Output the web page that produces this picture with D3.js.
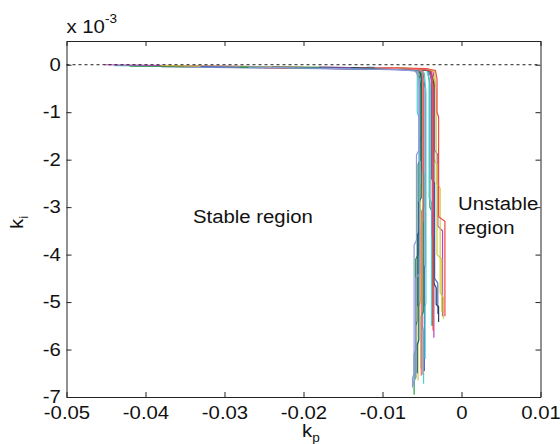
<!DOCTYPE html>
<html>
<head>
<meta charset="utf-8">
<script src="https://cdn.jsdelivr.net/npm/d3@7"></script>
<style>
  body { margin: 0; background: #fff; }
  text { font-family: Arial, "Liberation Sans", sans-serif; fill: #111; }
</style>
</head>
<body>
<div id="chart"></div>
<script>
///////////
// Data  //
///////////

// tick labels
var kpTicks = [-0.05, -0.04, -0.03, -0.02, -0.01, 0, 0.01];
var kiTicks = [-7, -6, -5, -4, -3, -2, -1, 0];   // units of 1e-3

// line colours (MATLAB-ish, as they look after antialiasing)
var colors = ["#4fcfcf", "#2a9a4a", "#1e5e5e", "#8f9bd8", "#cfcf3f", "#f04848", "#5068c8",
              "#2a9a4a", "#4fcfcf", "#c040c0", "#cfcf3f", "#5068c8", "#2a9a4a", "#4fcfcf",
              "#c040c0", "#26405a", "#f04848", "#cfcf3f", "#f04848", "#1e5e5e", "#f07a7a", "#8f9bd8"];

// stability boundary curves: [kp, ki (x 1e-3)]
var curves = [
  [[-0.0440,-0.02],[-0.0200,-0.05],[-0.0075,-0.07],[-0.0060,-0.10],[-0.0056,-0.2],[-0.0056,-1.0],[-0.0054,-1.1],[-0.0054,-3.0],[-0.0050,-3.1],[-0.0050,-5.5],[-0.0048,-5.6],[-0.0048,-6.72]],
  [[-0.0420,-0.03],[-0.0150,-0.06],[-0.0068,-0.09],[-0.0054,-0.14],[-0.0052,-0.4],[-0.0052,-2.0],[-0.0055,-2.1],[-0.0055,-4.0],[-0.0058,-4.1],[-0.0058,-6.0],[-0.0060,-6.1],[-0.0060,-6.95]],
  [[-0.0380,-0.04],[-0.0100,-0.09],[-0.0060,-0.11],[-0.0050,-0.15],[-0.0050,-1.5],[-0.0053,-1.6],[-0.0053,-3.5],[-0.0056,-3.6],[-0.0056,-5.4],[-0.0058,-5.5],[-0.0058,-6.6]],
  [[-0.0350,-0.05],[-0.0090,-0.10],[-0.0058,-0.12],[-0.0054,-0.3],[-0.0054,-1.8],[-0.0057,-1.9],[-0.0057,-3.7],[-0.0060,-3.8],[-0.0060,-6.5],[-0.0062,-6.6],[-0.0062,-6.8]],
  [[-0.0300,-0.04],[-0.0080,-0.09],[-0.0055,-0.12],[-0.0050,-0.3],[-0.0050,-2.5],[-0.0052,-2.6],[-0.0052,-5.0],[-0.0055,-5.1],[-0.0055,-6.65]],
  [[-0.0250,-0.06],[-0.0070,-0.10],[-0.0052,-0.13],[-0.0048,-0.4],[-0.0048,-3.0],[-0.0050,-3.1],[-0.0050,-6.53]],
  [[-0.0200,-0.07],[-0.0065,-0.11],[-0.0049,-0.14],[-0.0046,-0.5],[-0.0046,-4.2],[-0.0047,-4.3],[-0.0047,-6.45]],
  [[-0.0160,-0.06],[-0.0062,-0.10],[-0.0050,-0.2],[-0.0050,-2.2],[-0.0048,-2.3],[-0.0048,-5.2],[-0.0051,-5.3],[-0.0051,-6.4]],
  [[-0.0120,-0.05],[-0.0060,-0.09],[-0.0047,-0.18],[-0.0045,-0.6],[-0.0045,-5.0],[-0.0046,-5.1],[-0.0046,-6.2]],
  [[-0.0452,0.0],[-0.0300,-0.03],[-0.0120,-0.08],[-0.0045,-0.10],[-0.0036,-0.13],[-0.0034,-0.5],[-0.0034,-1.8],[-0.0030,-1.9],[-0.0030,-3.4],[-0.0024,-3.5],[-0.0024,-5.3]],
  [[-0.0380,-0.02],[-0.0100,-0.07],[-0.0040,-0.10],[-0.0035,-0.3],[-0.0035,-2.0],[-0.0031,-2.1],[-0.0031,-4.0],[-0.0025,-4.1],[-0.0025,-5.2]],
  [[-0.0330,-0.04],[-0.0080,-0.09],[-0.0042,-0.11],[-0.0038,-0.3],[-0.0038,-2.4],[-0.0034,-2.5],[-0.0034,-4.5],[-0.0030,-4.6],[-0.0030,-5.25]],
  [[-0.0280,-0.05],[-0.0075,-0.09],[-0.0043,-0.12],[-0.0040,-0.4],[-0.0040,-3.0],[-0.0037,-3.1],[-0.0037,-5.5]],
  [[-0.0220,-0.06],[-0.0070,-0.10],[-0.0044,-0.12],[-0.0041,-0.3],[-0.0041,-2.8],[-0.0038,-2.9],[-0.0038,-5.5]],
  [[-0.0180,-0.05],[-0.0065,-0.08],[-0.0040,-0.11],[-0.0037,-0.5],[-0.0037,-3.6],[-0.0035,-3.7],[-0.0035,-5.75]],
  [[-0.0140,-0.06],[-0.0060,-0.09],[-0.0039,-0.13],[-0.0035,-0.4],[-0.0035,-4.6],[-0.0032,-4.7],[-0.0032,-5.05],[-0.0029,-5.1],[-0.0029,-5.42]],
  [[-0.0130,-0.07],[-0.0050,-0.10],[-0.0038,-0.13],[-0.0036,-0.5],[-0.0036,-5.6]],
  [[-0.0090,-0.06],[-0.0042,-0.09],[-0.0034,-0.15],[-0.0032,-0.6],[-0.0032,-2.5],[-0.0027,-2.6],[-0.0027,-4.8],[-0.0023,-4.9],[-0.0023,-5.35]],
  [[-0.0100,-0.06],[-0.0045,-0.08],[-0.0033,-0.12],[-0.0031,-0.3],[-0.0031,-1.0],[-0.0029,-1.1],[-0.0029,-3.2],[-0.0021,-3.3],[-0.0021,-5.3]],
  [[-0.0240,-0.05],[-0.0070,-0.09],[-0.0053,-0.12],[-0.0051,-0.3],[-0.0051,-2.8],[-0.0054,-2.9],[-0.0054,-5.8],[-0.0056,-5.9],[-0.0056,-6.5]],
  [[-0.0110,-0.06],[-0.0055,-0.10],[-0.0049,-0.15],[-0.0049,-3.3],[-0.0051,-3.4],[-0.0051,-6.55]],
  [[-0.0270,-0.05],[-0.0080,-0.10],[-0.0055,-0.14],[-0.0053,-0.5],[-0.0053,-4.4],[-0.0058,-4.5],[-0.0058,-6.6],[-0.0061,-6.7],[-0.0061,-6.75]]
];

///////////////////
// Initial setup //
///////////////////

var width = 560;
var height = 444;
var margin = {left: 66.5, right: 19.5, top: 41, bottom: 47};
var stretch = "scale(1.13,1)";   // the original lettering is a little wide

var svg = d3.select("#chart").append("svg")
	.attr("width", width).attr("height", height);

var x = d3.scaleLinear().domain([-0.05, 0.01]).range([margin.left, width - margin.right]);
var y = d3.scaleLinear().domain([-7, 0.5]).range([height - margin.bottom, margin.top]);

var fmtKp = function(d) { return d === 0 ? "0" : String(+d.toFixed(2)); };

// Curves
var line = d3.line()
	.x(function(d) { return x(d[0]); })
	.y(function(d) { return y(d[1]); });

svg.append("g").selectAll("path").data(curves).enter().append("path")
	.attr("d", line)
	.attr("fill", "none")
	.attr("stroke", function(d, i) { return colors[i % colors.length]; })
	.attr("stroke-width", 1.2);

// Dashed zero line
svg.append("line")
	.attr("x1", x(-0.05)).attr("x2", x(0.01))
	.attr("y1", y(0)).attr("y2", y(0))
	.attr("stroke", "#222").attr("stroke-width", 1)
	.attr("stroke-dasharray", "3,3");

// Axes (box with inward ticks)
function styleAxis(g) {
	g.selectAll(".domain").attr("stroke", "#222");
	g.selectAll(".tick line").attr("stroke", "#222");
	g.selectAll("text").attr("font-size", "18px").attr("fill", "#111")
		.attr("font-family", "Arial, 'Liberation Sans', sans-serif")
		.attr("transform", stretch);
}

svg.append("g")
	.attr("transform", "translate(0," + y(-7) + ")")
	.call(d3.axisBottom(x).tickValues(kpTicks).tickFormat(fmtKp).tickSizeInner(-5).tickSizeOuter(0).tickPadding(9))
	.call(styleAxis);

svg.append("g")
	.attr("transform", "translate(0," + y(0.5) + ")")
	.call(d3.axisTop(x).tickValues(kpTicks).tickFormat("").tickSizeInner(-5).tickSizeOuter(0))
	.call(styleAxis);

svg.append("g")
	.attr("transform", "translate(" + x(-0.05) + ",0)")
	.call(d3.axisLeft(y).tickValues(kiTicks).tickFormat(function(d) { return String(d); }).tickSizeInner(-5).tickSizeOuter(0).tickPadding(5))
	.call(styleAxis);

svg.append("g")
	.attr("transform", "translate(" + x(0.01) + ",0)")
	.call(d3.axisRight(y).tickValues(kiTicks).tickFormat("").tickSizeInner(-5).tickSizeOuter(0))
	.call(styleAxis);

// Stretched free text helper
function label(px, py, rot) {
	return svg.append("g")
		.attr("transform", "translate(" + px + "," + py + ")" + (rot ? " rotate(" + rot + ")" : "") + " " + stretch)
		.append("text").attr("font-size", "18px");
}

// Exponent label
var ex = label(x(-0.05), 33);
ex.append("tspan").text("x 10");
ex.append("tspan").attr("font-size", "12px").attr("dy", -10).text("-3");

// Axis labels
var xl = label(302, 437);
xl.append("tspan").text("k");
xl.append("tspan").attr("font-size", "12px").attr("dy", 5).text("p");

var yl = label(23, 229, -90);
yl.append("tspan").text("k");
yl.append("tspan").attr("font-size", "12px").attr("dy", 5).text("i");

// Region labels
label(193, 223).text("Stable region");
label(458, 210).text("Unstable");
label(458, 234).text("region");
</script>
</body>
</html>
